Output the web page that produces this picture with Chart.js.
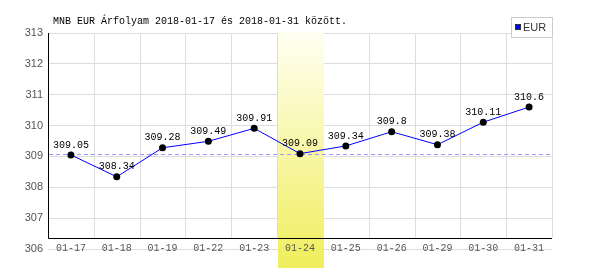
<!DOCTYPE html>
<html>
<head>
<meta charset="utf-8">
<script src="https://cdn.jsdelivr.net/npm/chart.js@4/dist/chart.umd.min.js"></script>
<style>
    html, body { margin: 0; padding: 0; background: #fff; }
    canvas { display: block; }
</style>
</head>
<body>
<canvas id="rateChart" width="600" height="270"></canvas>
<script>
// Chart data
const days = ['01-17', '01-18', '01-19', '01-22', '01-23', '01-24', '01-25', '01-26', '01-29', '01-30', '01-31'];
const eurRates = [309.05, 308.34, 309.28, 309.49, 309.91, 309.09, 309.34, 309.8, 309.38, 310.11, 310.6];
const yTicks = [306, 307, 308, 309, 310, 311, 312, 313];
const highlightIndex = 5;
const titleText = 'MNB EUR Árfolyam 2018-01-17 és 2018-01-31 között.';
const seriesName = 'EUR';

const monoFont = '10px "Liberation Mono", "DejaVu Sans Mono", monospace';

// Background pieces: band, vertical grid, axes, reference line, x labels
const backdropPlugin = {
    id: 'backdrop',
    beforeDatasetsDraw(chart) {
        const { ctx, chartArea, scales } = chart;
        const x = scales.x, y = scales.y;
        const step = x.getPixelForValue(1) - x.getPixelForValue(0);
        const axisY = chartArea.bottom - 11;

        ctx.save();
        // vertical grid lines between days
        ctx.strokeStyle = '#dddddd';
        ctx.lineWidth = 1;
        for (let i = 0; i <= days.length; i++) {
            const gx = Math.round(x.getPixelForValue(i) - step / 2) + 0.5;
            ctx.beginPath();
            ctx.moveTo(gx, chartArea.top);
            ctx.lineTo(gx, axisY);
            ctx.stroke();
        }

        // highlighted day band
        const bx = x.getPixelForValue(highlightIndex) - step / 2;
        const grad = ctx.createLinearGradient(0, chartArea.top, 0, chart.height - 2);
        grad.addColorStop(0, '#fffff2');
        grad.addColorStop(1, '#f0ee5c');
        ctx.fillStyle = grad;
        ctx.fillRect(Math.round(bx) + 1, chartArea.top - 1, Math.round(step), chart.height - 2 - chartArea.top + 1);

        // black axes
        ctx.strokeStyle = '#000';
        ctx.beginPath();
        ctx.moveTo(chartArea.left + 0.5, chartArea.top);
        ctx.lineTo(chartArea.left + 0.5, axisY + 0.5);
        ctx.lineTo(chartArea.right, axisY + 0.5);
        ctx.stroke();

        // dashed line at the highlighted day's rate
        const ry = Math.round(y.getPixelForValue(eurRates[highlightIndex])) + 0.5;
        ctx.strokeStyle = '#9999ff';
        ctx.setLineDash([4, 3]);
        ctx.beginPath();
        ctx.moveTo(chartArea.left + 1, ry);
        ctx.lineTo(chartArea.right, ry);
        ctx.stroke();
        ctx.setLineDash([]);

        // x labels
        ctx.fillStyle = '#555555';
        ctx.font = monoFont;
        ctx.textAlign = 'center';
        ctx.textBaseline = 'middle';
        days.forEach((d, i) => {
            ctx.fillText(d, x.getPixelForValue(i), chartArea.bottom - 1);
        });
        ctx.restore();
    },
    afterDatasetsDraw(chart) {
        const { ctx, chartArea } = chart;
        const meta = chart.getDatasetMeta(0);
        ctx.save();

        // value labels
        ctx.fillStyle = '#000';
        ctx.font = monoFont;
        ctx.textAlign = 'center';
        ctx.textBaseline = 'bottom';
        meta.data.forEach((pt, i) => {
            ctx.fillText(String(eurRates[i]), pt.x, pt.y - 5);
        });

        // title
        ctx.textAlign = 'left';
        ctx.textBaseline = 'alphabetic';
        ctx.fillText(titleText, chartArea.left + 5, 24);

        // legend
        const lx = chartArea.right - 41, ly = chartArea.top - 16;
        ctx.fillStyle = '#fff';
        ctx.fillRect(lx, ly, 41, 20);
        ctx.strokeStyle = '#cccccc';
        ctx.strokeRect(lx + 0.5, ly + 0.5, 41, 20);
        ctx.fillStyle = '#0000ff';
        ctx.fillRect(lx + 4, ly + 7, 6, 6);
        ctx.strokeStyle = '#333';
        ctx.strokeRect(lx + 4.5, ly + 7.5, 5, 5);
        ctx.fillStyle = '#333';
        ctx.font = '11px "Liberation Sans", Arial, sans-serif';
        ctx.textBaseline = 'middle';
        ctx.fillText(seriesName, lx + 12, ly + 11);
        ctx.restore();
    }
};

const ctx = document.getElementById('rateChart').getContext('2d');
new Chart(ctx, {
    type: 'line',
    data: {
        labels: days,
        datasets: [{
            label: seriesName,
            data: eurRates,
            borderColor: '#0000ff',
            borderWidth: 1,
            tension: 0,
            pointRadius: 3.5,
            pointBackgroundColor: '#000',
            pointBorderColor: '#000',
            pointBorderWidth: 0
        }]
    },
    options: {
        responsive: false,
        devicePixelRatio: 1,
        animation: false,
        layout: { padding: { top: 33, right: 48, bottom: 21, left: 0 } },
        plugins: {
            legend: { display: false },
            title: { display: false },
            tooltip: { enabled: false }
        },
        scales: {
            x: {
                display: false,
                offset: true
            },
            y: {
                min: yTicks[0],
                max: yTicks[yTicks.length - 1],
                afterBuildTicks: scale => { scale.ticks = yTicks.map(v => ({ value: v })); },
                afterFit: scale => { scale.width = 48; },
                border: { display: false },
                grid: { color: '#dddddd', drawTicks: false },
                ticks: {
                    padding: 5,
                    color: '#555555',
                    font: { family: '"Liberation Sans", Arial, sans-serif', size: 11 }
                }
            }
        }
    },
    plugins: [backdropPlugin]
});
</script>
</body>
</html>
